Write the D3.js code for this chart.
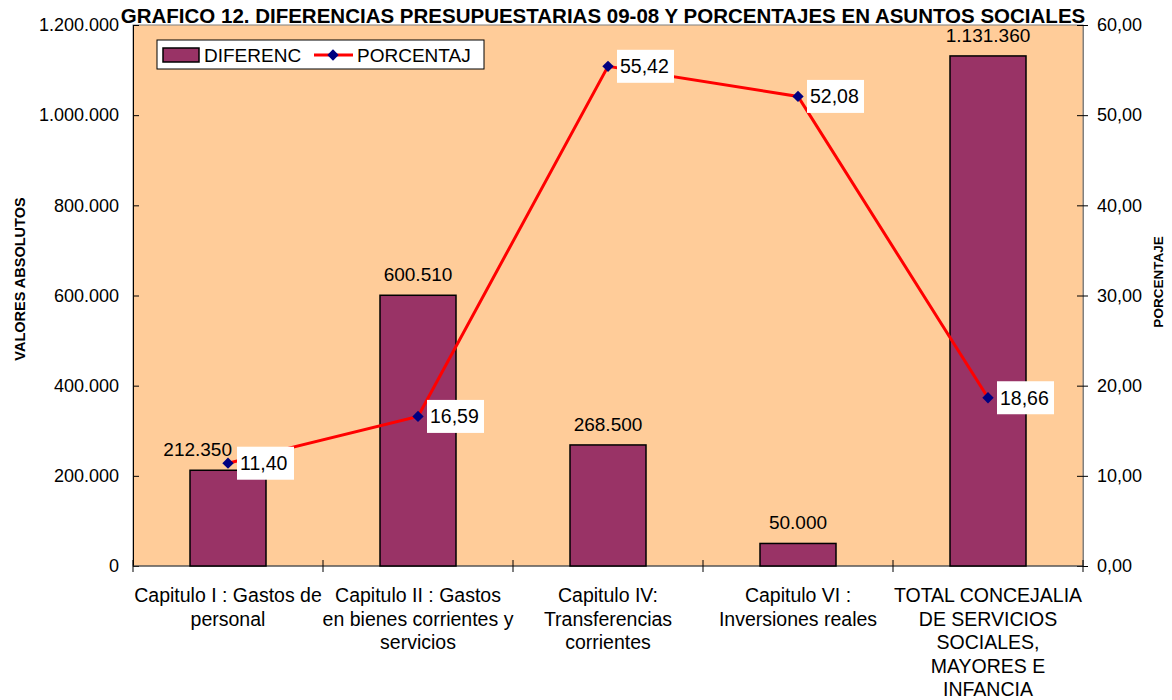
<!DOCTYPE html>
<html>
<head>
<meta charset="utf-8">
<script src="https://cdn.jsdelivr.net/npm/d3@7"></script>
<style>
  body { margin: 0; background: #fff; }
  text { font-family: "Liberation Sans", Arial, sans-serif; fill: #000; }
</style>
</head>
<body>
<div id="chart"></div>
<script>
// data
const categories = [
    ["Capitulo I : Gastos de", "personal"],
    ["Capitulo II : Gastos", "en bienes corrientes y", "servicios"],
    ["Capitulo IV:", "Transferencias", "corrientes"],
    ["Capitulo VI :", "Inversiones reales"],
    ["TOTAL CONCEJALIA", "DE SERVICIOS", "SOCIALES,", "MAYORES E", "INFANCIA"]
];
const diferencias = [212350, 600510, 268500, 50000, 1131360];
const porcentajes = [11.40, 16.59, 55.42, 52.08, 18.66];
const leftTicks = [0, 200000, 400000, 600000, 800000, 1000000, 1200000];
const rightTicks = [0, 10, 20, 30, 40, 50, 60];

const W = 1172, H = 700;
const margin = {top: 25, right: 89, bottom: 134, left: 133};
const width = W - margin.left - margin.right;
const height = H - margin.top - margin.bottom;

const fmtAbs = d => d3.format(",")(d).replace(/,/g, ".");
const fmtPct = d => d.toFixed(2).replace(".", ",");

const svg = d3.select("#chart").append("svg")
    .attr("width", W)
    .attr("height", H);

const g = svg.append("g")
    .attr("transform", `translate(${margin.left},${margin.top})`);

const x = d3.scaleBand()
    .domain(d3.range(categories.length))
    .range([0, width]);

const yL = d3.scaleLinear().domain([0, 1200000]).range([height, 0]);
const yR = d3.scaleLinear().domain([0, 60]).range([height, 0]);

// plot background
g.append("rect")
    .attr("width", width)
    .attr("height", height)
    .attr("fill", "#FFCC99")
    .attr("stroke", "#808080")
    .attr("stroke-width", 1);

// title
svg.append("text")
    .attr("x", 603)
    .attr("y", 23)
    .attr("text-anchor", "middle")
    .style("font-size", "20.5px")
    .style("font-weight", "bold")
    .text("GRAFICO 12. DIFERENCIAS PRESUPUESTARIAS 09-08 Y PORCENTAJES EN ASUNTOS SOCIALES");

// left axis
const axL = g.append("g")
    .call(d3.axisLeft(yL).tickValues(leftTicks).tickFormat(fmtAbs).tickSizeInner(5).tickSizeOuter(0).tickPadding(9));
axL.select(".domain").attr("stroke", "#000");
axL.selectAll(".tick line").attr("x2", 6);
axL.selectAll("text").style("font-size", "18px").style("font-family", "Liberation Sans, Arial, sans-serif");

// right axis
const axR = g.append("g")
    .attr("transform", `translate(${width},0)`)
    .call(d3.axisRight(yR).tickValues(rightTicks).tickFormat(fmtPct).tickSizeInner(5).tickSizeOuter(0).tickPadding(9));
axR.select(".domain").attr("stroke", "#808080");
axR.selectAll(".tick line").attr("x1", -6);
axR.selectAll("text").style("font-size", "18px").style("font-family", "Liberation Sans, Arial, sans-serif");

// bottom axis line and category ticks
g.append("line")
    .attr("x1", 0).attr("x2", width)
    .attr("y1", height).attr("y2", height)
    .attr("stroke", "#404040");
g.selectAll(".cat-tick").data(d3.range(categories.length + 1))
    .enter().append("line")
    .attr("x1", i => i * x.step()).attr("x2", i => i * x.step())
    .attr("y1", height - 6).attr("y2", height + 6)
    .attr("stroke", "#000");

// category labels
const cat = g.selectAll(".cat").data(categories)
    .enter().append("text")
    .attr("text-anchor", "middle")
    .style("font-size", "19.5px")
    .attr("transform", (d, i) => `translate(${x(i) + x.bandwidth() / 2},${height + 36})`);
cat.selectAll("tspan").data(d => d)
    .enter().append("tspan")
    .attr("x", 0)
    .attr("y", (d, i) => i * 23.5)
    .text(d => d);

// axis titles
svg.append("text")
    .attr("transform", "translate(25,279) rotate(-90)")
    .attr("text-anchor", "middle")
    .style("font-size", "14.5px")
    .style("font-weight", "bold")
    .text("VALORES ABSOLUTOS");

svg.append("text")
    .attr("transform", "translate(1163,282) rotate(-90)")
    .attr("text-anchor", "middle")
    .style("font-size", "13.5px")
    .style("font-weight", "bold")
    .text("PORCENTAJE");

// bars
const barW = x.bandwidth() * 0.4;
g.selectAll(".bar").data(diferencias)
    .enter().append("rect")
    .attr("x", (d, i) => x(i) + (x.bandwidth() - barW) / 2)
    .attr("y", d => yL(d))
    .attr("width", barW)
    .attr("height", d => height - yL(d))
    .attr("fill", "#993366")
    .attr("stroke", "#000")
    .attr("stroke-width", 1.5);

const barLabels = g.selectAll(".bar-label").data(diferencias)
    .enter().append("text")
    .attr("x", (d, i) => x(i) + x.bandwidth() / 2)
    .attr("y", d => yL(d) - 14)
    .attr("text-anchor", "middle")
    .style("font-size", "19px")
    .text(d => fmtAbs(d));

// line
const line = d3.line()
    .x((d, i) => x(i) + x.bandwidth() / 2)
    .y(d => yR(d));

g.append("path")
    .datum(porcentajes)
    .attr("d", line)
    .attr("fill", "none")
    .attr("stroke", "#FF0000")
    .attr("stroke-width", 3);

g.selectAll(".marker").data(porcentajes)
    .enter().append("path")
    .attr("d", d3.symbol().type(d3.symbolSquare).size(64))
    .attr("transform", (d, i) => `translate(${x(i) + x.bandwidth() / 2},${yR(d)}) rotate(45)`)
    .attr("fill", "#000080");

// percentage labels with white boxes
const pl = g.selectAll(".pct-label").data(porcentajes)
    .enter().append("g")
    .attr("transform", (d, i) => `translate(${x(i) + x.bandwidth() / 2},${yR(d)})`);
pl.append("rect")
    .attr("x", 9).attr("y", -16.5)
    .attr("width", 57).attr("height", 33)
    .attr("fill", "#fff");
pl.append("text")
    .attr("x", 12).attr("y", 7)
    .style("font-size", "19.5px")
    .text(d => fmtPct(d));

// move a bar label left when it runs into the percentage box (as Excel did)
barLabels.each(function(d, i) {
    const cx = x(i) + x.bandwidth() / 2;
    const bb = this.getBBox();
    const py = yR(porcentajes[i]);
    const hitsY = bb.y + bb.height > py - 16.5 && bb.y < py + 16.5;
    if (hitsY && bb.x + bb.width > cx + 9) {
        d3.select(this)
            .attr("text-anchor", "end")
            .attr("x", cx + 4);
    }
});

// legend
const lg = svg.append("g").attr("transform", "translate(157,40)");
lg.append("rect")
    .attr("width", 327).attr("height", 29)
    .attr("fill", "#fff")
    .attr("stroke", "#000");
lg.append("rect")
    .attr("x", 6).attr("y", 8)
    .attr("width", 36).attr("height", 14)
    .attr("fill", "#993366")
    .attr("stroke", "#000")
    .attr("stroke-width", 1.5);
lg.append("text")
    .attr("x", 47).attr("y", 22)
    .style("font-size", "19px")
    .text("DIFERENC");
lg.append("line")
    .attr("x1", 157).attr("x2", 196)
    .attr("y1", 15).attr("y2", 15)
    .attr("stroke", "#FF0000")
    .attr("stroke-width", 3);
lg.append("path")
    .attr("d", d3.symbol().type(d3.symbolSquare).size(64))
    .attr("transform", "translate(176,15) rotate(45)")
    .attr("fill", "#000080");
lg.append("text")
    .attr("x", 200).attr("y", 22)
    .style("font-size", "19px")
    .text("PORCENTAJ");
</script>
</body>
</html>
